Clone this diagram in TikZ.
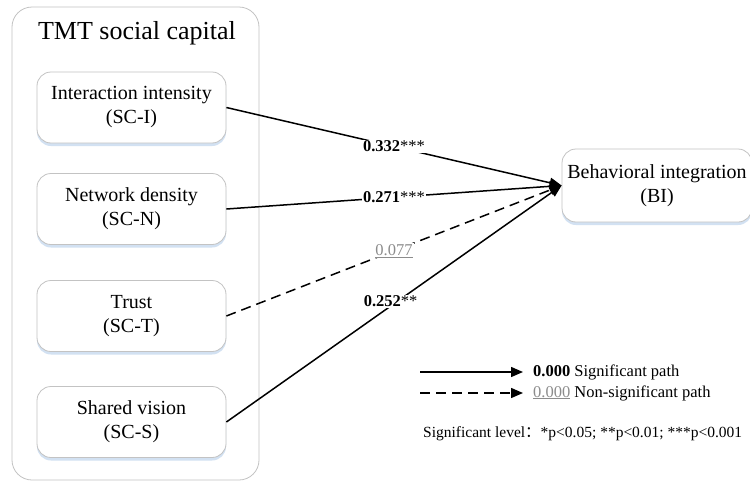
\documentclass[tikz,border=0pt]{standalone}
\usepackage{fontspec}
\setmainfont{Liberation Serif}
\newfontfamily\cjk{Noto Sans CJK SC}
\usetikzlibrary{arrows.meta,shadows}
\definecolor{boxline}{RGB}{195,195,195}
\definecolor{shadowblue}{RGB}{210,225,242}
\definecolor{nsgray}{RGB}{140,140,140}
\begin{document}
\begin{tikzpicture}[x=1pt,y=-1pt,
  outerbox/.style={draw=boxline, line width=0.8pt, rounded corners=20pt},
  box/.style={draw=boxline, line width=0.8pt, fill=white, rounded corners=14pt,
    minimum width=189pt, minimum height=71pt, align=center, inner sep=0pt,
    font=\rmfamily\fontsize{20}{24}\selectfont,
    drop shadow={shadow xshift=0pt, shadow yshift=-3pt, fill=shadowblue, opacity=1}},
  sig/.style={line width=1.5pt, -{Triangle[length=12pt,width=10pt]}},
  nsig/.style={sig, dash pattern=on 10pt off 6pt},
  lab/.style={fill=white, inner sep=1pt, font=\rmfamily\fontsize{16.5}{18}\selectfont},
  legtext/.style={anchor=west, inner sep=0pt, font=\rmfamily\fontsize{16.5}{18}\selectfont},
]
\useasboundingbox (0,0) rectangle (750,482);
\fill[white] (0,0) rectangle (750,482);

% outer group
\draw[outerbox] (12,7) rectangle (259,480);
\node[font=\rmfamily\fontsize{26}{30}\selectfont] (title) at (137,33) {TMT social capital};

% inner boxes
\node[box] (sci) at (131.5,107.5) {Interaction intensity\\(SC-I)};
\node[box] (scn) at (131.5,209) {Network density\\(SC-N)};
\node[box] (sct) at (131.5,316) {Trust\\(SC-T)};
\node[box] (scs) at (131.5,422) {Shared vision\\(SC-S)};

% target
\node[box, minimum width=190pt, minimum height=73pt] (bi) at (657,185.5) {Behavioral integration\\(BI)};

% paths
\draw[sig] (sci.east) -- (bi.west)
  node[lab, pos=0.5] {\textbf{0.332}***};
\draw[sig] (scn.east) -- (bi.west)
  node[lab, pos=0.5] {\textbf{0.271}***};
\draw[nsig] (sct.east) -- (bi.west)
  node[lab, pos=0.5] {\color{nsgray}\underline{0.077}};
\draw[sig] (scs.east) -- (bi.west)
  node[lab, pos=0.49, yshift=5pt] {\textbf{0.252}**};

% legend
\coordinate (l1s) at (420,372);
\coordinate (l1e) at (523,372);
\coordinate (l2s) at (420,393);
\coordinate (l2e) at (523,393);
\draw[sig] (l1s) -- (l1e);
\draw[nsig] (l2s) -- (l2e);
\node[legtext] (lt1) at (533,372) {\textbf{0.000} Significant path};
\node[legtext] (lt2) at (533,393) {{\color{nsgray}\underline{0.000}} Non-significant path};
\node[legtext, font=\rmfamily\fontsize{15.5}{18}\selectfont] (lt3) at (423,434)
  {Significant level{\cjk ：}*p<0.05; **p<0.01; ***p<0.001};
\end{tikzpicture}
\end{document}
